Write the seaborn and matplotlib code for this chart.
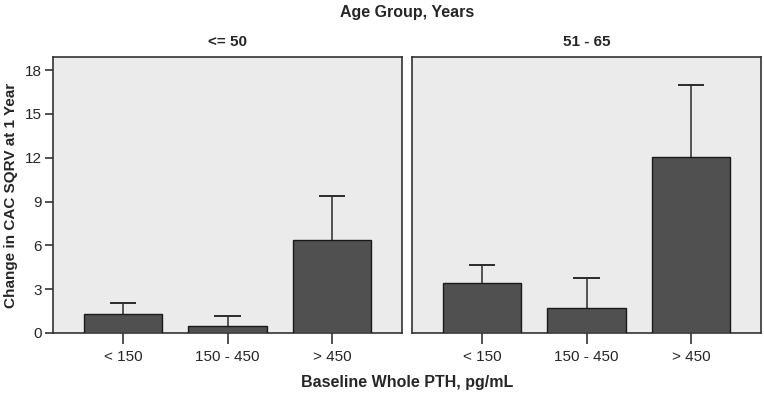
import pandas as pd
import numpy as np
from matplotlib import pyplot as plt
import seaborn as sns

sns.set_style('white')
plt.rcParams['font.family'] = ['Liberation Sans', 'DejaVu Sans']
plt.rcParams['font.size'] = 11

# 数据
pth_groups = ['< 150', '150 - 450', '> 450']
age_groups = ['<= 50', '51 - 65']
means_le50 = [1.28, 0.46, 6.37]
upper_le50 = [2.03, 1.14, 9.38]
means_51_65 = [3.42, 1.69, 12.03]
upper_51_65 = [4.64, 3.77, 17.0]
y_ticks = [0, 3, 6, 9, 12, 15, 18]

df = pd.DataFrame({
    'age': np.repeat(age_groups, 3),
    'pth': pth_groups * 2,
    'mean': means_le50 + means_51_65,
    'upper': upper_le50 + upper_51_65,
})

fig = plt.figure(figsize=(7.64, 3.93), dpi=100)
ax1 = fig.add_axes([53 / 764, 1 - 333 / 393, 349 / 764, 276 / 393])
ax2 = fig.add_axes([412 / 764, 1 - 333 / 393, 349 / 764, 276 / 393])

for ax, age in zip([ax1, ax2], age_groups):
    sub = df[df['age'] == age]
    ax.set_facecolor('#ebebeb')
    sns.barplot(data=sub, x='pth', y='mean', order=pth_groups, color='#505050',
                edgecolor='#1a1a1a', linewidth=1.0, width=0.75, saturation=1,
                errorbar=None, ax=ax, zorder=3)
    # 只画上半部分误差线
    xs = np.arange(3)
    ax.vlines(xs, sub['mean'].values, sub['upper'].values, color='#2a2a2a',
              linewidth=1.1, zorder=2)
    ax.hlines(sub['upper'].values, xs - 0.125, xs + 0.125, color='#2a2a2a',
              linewidth=1.4, zorder=2)
    ax.set_xlim(-0.67, 2.67)
    ax.set_ylim(0, 18.9)
    ax.set_title(age, fontweight='bold', fontsize=11, pad=8)
    ax.set_xlabel('')
    ax.set_ylabel('')
    for s in ax.spines.values():
        s.set_color('#333333')
        s.set_linewidth(1.2)
    ax.tick_params(axis='x', length=8, width=1.2, color='#333333',
                   labelsize=11, pad=4, bottom=True)

ax1.set_yticks(y_ticks)
ax1.tick_params(axis='y', length=6, width=1.2, color='#333333', labelsize=11,
                pad=2, left=True)
ax2.set_yticks([])

fig.text(407 / 764, 1 - 13 / 393, 'Age Group, Years', ha='center', va='center',
         fontweight='bold', fontsize=11.5)
fig.text(407 / 764, 1 - 382 / 393, 'Baseline Whole PTH, pg/mL', ha='center',
         va='center', fontweight='bold', fontsize=11.5)
fig.text(11 / 764, 1 - 195 / 393, 'Change in CAC SQRV at 1 Year', ha='center',
         va='center', rotation=90, fontweight='bold', fontsize=11)

fig.savefig('out.png', dpi=100, facecolor='white')
